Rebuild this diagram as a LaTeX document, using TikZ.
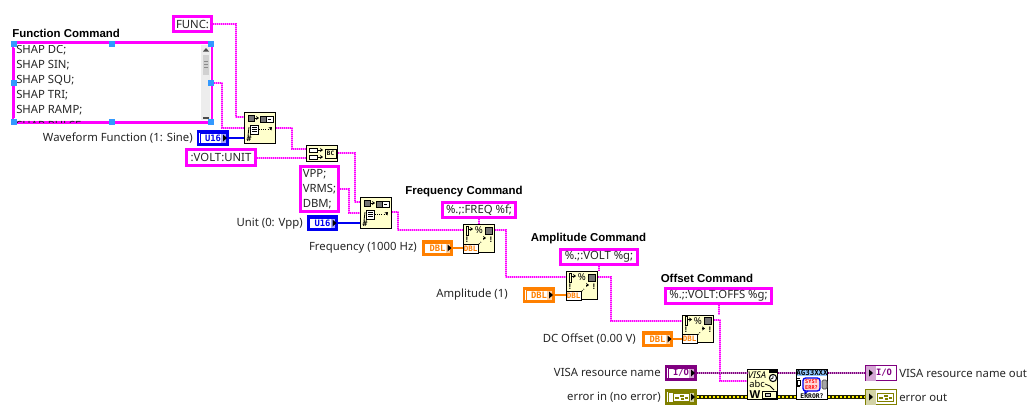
\documentclass[tikz,border=0pt]{standalone}
\usepackage{fontspec}
\setmainfont{Noto Sans}
\newfontfamily\monoicon{DejaVu Sans Mono}
\newfontfamily\capfont{Liberation Sans}
\usetikzlibrary{calc,arrows.meta}
\definecolor{strpink}{HTML}{FF00FF}
\definecolor{ubl}{HTML}{0000F0}
\definecolor{dblo}{HTML}{FF8000}
\definecolor{iop}{HTML}{800080}
\definecolor{errg}{HTML}{808000}
\definecolor{viy}{HTML}{FFFFCC}
\definecolor{hand}{HTML}{3399FF}
\tikzset{
  lbl/.style={font=\fontsize{8.5pt}{11pt}\selectfont,inner sep=0pt,text=black!85},
  capt/.style={font=\capfont\bfseries\fontsize{8.6pt}{11pt}\selectfont,inner sep=0pt},
  strbox/.style={draw=strpink,line width=2.25pt,fill=white,inner sep=0pt,align=left,font=\fontsize{8.5pt}{11.3pt}\selectfont,text=black!85},
  vi/.style={draw=black,line width=.75pt,fill=viy,inner sep=0pt},
  strw/.style={draw=strpink!45,line width=1.5pt,postaction={draw=strpink,line width=1.5pt,dash pattern=on .75pt off .75pt}},
  intw/.style={draw=ubl,line width=.9pt},
  dblw/.style={draw=dblo,line width=.9pt},
  iow/.style={draw=iop!45,line width=1.4pt,postaction={draw=iop,line width=1.4pt,dash pattern=on .75pt off .75pt}},
  errb/.style={draw=black!75!errg,line width=2.4pt},
  erry/.style={draw=yellow,line width=.9pt,dash pattern=on 1.5pt off 1.5pt},
  ico/.style={draw=black,line width=.6pt},
  tinyarr/.style={-{Stealth[length=2.2pt,width=3pt]}},
  chk/.style={draw=black,line width=.6pt,fill=black!55},
  hnd/.style={fill=hand,draw=none},
}
% rectangle node by outer edges
\newcommand\strc[6]{\node[strbox,minimum width={(#4-#2-3)*.75pt},minimum height={(#5-#3-3)*.75pt}] (#1) at ({(#2+#4)/2},{(#3+#5)/2}) {#6};}
\newcommand\vibox[5]{\node[vi,minimum width={(#4-#2-1)*.75pt},minimum height={(#5-#3-1)*.75pt}] (#1) at ({(#2+#4)/2},{(#3+#5)/2}) {};}
% control terminal: name, cx, cy, colour, text
\newcommand\ctlterm[5]{%
  \node[draw=#4,line width=1.8pt,fill=white,minimum width={29.5*.75pt},minimum height={13*.75pt},inner sep=0pt] (#1) at (#2,#3) {};
  \fill[#4!35] ({#2+8},{#3-5}) rectangle ({#2+13.5},{#3+5});
  \draw[#4,line width=.5pt] ({#2-13},{#3-5}) rectangle ({#2+13},{#3+5});
  \node[inner sep=0pt,text=#4,font=\monoicon\bfseries\fontsize{6.6pt}{8pt}\selectfont] at ({#2},#3) {#5};
  \fill[black] ({#2+10},{#3-3.5}) -- ({#2+14},#3) -- ({#2+10},{#3+3.5}) -- cycle;
}
% indicator terminal
\newcommand\indterm[5]{%
  \node[draw=#4,line width=.9pt,fill=white,minimum width={31*.75pt},minimum height={15*.75pt},inner sep=0pt] (#1) at (#2,#3) {};
  \fill[#4!35] ({#2-15.5},{#3-7.5}) rectangle ({#2-5},{#3+7.5});
  \node[inner sep=0pt,text=#4,font=\monoicon\bfseries\fontsize{6.6pt}{8pt}\selectfont] at ({#2+3},#3) {#5};
  \fill[black] ({#2-12},{#3-3.5}) -- ({#2-8},#3) -- ({#2-12},{#3+3.5}) -- cycle;
}
% little cluster glyph
\newcommand\clus[2]{%
  \draw[errg,line width=.6pt] ({#1-3},{#2-4}) rectangle ({#1+13},{#2+4});
  \fill[errg] ({#1-1},{#2}) rectangle ({#1+3},{#2+2});
  \fill[errg] ({#1+4},{#2-2}) rectangle ({#1+8},{#2});
  \fill[errg] ({#1+5},{#2+1}) rectangle ({#1+8},{#2+3});
  \fill[errg] ({#1+9},{#2}) rectangle ({#1+12},{#2+2});
}
% concatenate / build-string icon at top-left x,y
\newcommand\buildicon[2]{%
  \filldraw[chk] ({#1+4},{#2+3}) rectangle ({#1+10},{#2+9});
  \draw[ico,tinyarr] ({#1+11},{#2+6}) -- ({#1+15},{#2+6});
  \filldraw[chk] ({#1+16},{#2+4}) rectangle ({#1+22},{#2+10});
  \draw[ico,fill=white] ({#1+22},{#2+4}) rectangle ({#1+29},{#2+10});
  \draw[ico] ({#1+24},{#2+7}) -- ({#1+27},{#2+7});
  \draw[ico,fill=white] ({#1+6},{#2+13}) rectangle ({#1+14},{#2+22});
  \draw[ico] ({#1+8},{#2+15.5}) -- ({#1+13},{#2+15.5}) ({#1+8},{#2+17.5}) -- ({#1+13},{#2+17.5}) ({#1+8},{#2+19.5}) -- ({#1+13},{#2+19.5});
  \draw[ico] ({#1+5},{#2+15}) -- ({#1+4},{#2+24});
  \draw[ico,densely dotted] ({#1+15},{#2+17}) -- ({#1+26},{#2+17});
  \draw[ico,tinyarr] ({#1+26},{#2+17}) -- ({#1+28},{#2+15});
  \node[inner sep=0pt,font=\monoicon\bfseries\fontsize{6pt}{6pt}\selectfont] at ({#1+5},{#2+27}) {\#};
}
% format-into-string icon at top-left x,y
\newcommand\fmticon[2]{%
  \draw[ico] ({#1+3},{#2+2}) rectangle ({#1+5.5},{#2+11});
  \draw[ico,tinyarr] ({#1+5.5},{#2+5}) -- ({#1+10},{#2+5});
  \node[inner sep=0pt,font=\fontsize{7.2pt}{8pt}\selectfont] at ({#1+15.8},{#2+6.5}) {\%};
  \filldraw[chk] ({#1+22},{#2+3}) rectangle ({#1+29},{#2+10});
  \node[inner sep=0pt,font=\capfont\bfseries\fontsize{6pt}{6pt}\selectfont] at ({#1+4},{#2+15.5}) {!};
  \node[inner sep=0pt,font=\capfont\bfseries\fontsize{6pt}{6pt}\selectfont] at ({#1+28},{#2+15.5}) {!};
  \draw[ico,densely dotted] ({#1+16},{#2+20}) -- ({#1+19},{#2+17});
  \draw[ico,tinyarr] ({#1+20},{#2+14}) -- ({#1+23},{#2+14});
  \draw[black,line width=.7pt,fill=white] ({#1},{#2+20}) rectangle ({#1+15},{#2+29});
  \node[inner sep=0pt,text=dblo,font=\monoicon\bfseries\fontsize{5.6pt}{6pt}\selectfont] at ({#1+7.5},{#2+24.5}) {DBL};
}
\begin{document}
\begin{tikzpicture}[x=.75pt,y=-.75pt]
\useasboundingbox (0,0) rectangle (1033,418);
\fill[white] (0,0) rectangle (1033,418);

% list box
\node[draw=strpink,line width=1.7pt,fill=white,inner sep=0pt,minimum width={199*.75pt},minimum height={80*.75pt}] (list) at (112.5,82.5) {};
\draw[strpink,line width=2.25pt] (13,48) -- (13,118);
\fill[black!7] (201,45) rectangle (210,120);
\fill[black!18] (203,55) rectangle (209,75);
\draw[black!45,line width=.5pt] (204,61) -- (208,61) (204,64) -- (208,64) (204,67) -- (208,67);
\fill[black!70] (206,48) -- (209,51.5) -- (203,51.5) -- cycle;
\draw[black!70,line width=.8pt] (203,118) -- (209,118);
\begin{scope}
\clip (15,45) rectangle (200,122);
\foreach \t/\yy in {SHAP DC;/50,SHAP SIN;/65,SHAP SQU;/80,SHAP TRI;/95,SHAP RAMP;/110,SHAP PULSE/125}
  \node[lbl,anchor=west] at (16,\yy) {\t};
\end{scope}
\foreach \hx/\hy in {14/44,112/44,211/44,14/83,211/83,14/121.5,112/121.5,211/121.5}
  \fill[hnd] ({\hx-3},{\hy-3}) rectangle ({\hx+3},{\hy+3});
\coordinate (listout) at (214,83);
\node[capt,anchor=west] (capfn) at (12,33) {Function Command};

% string constants
\strc{func}{172}{15}{213}{33}{FUNC:}
\strc{volt}{185}{148}{257}{167}{:VOLT:UNIT}
\strc{vpp}{299}{165}{340}{213}{VPP;\\VRMS;\\DBM;}
\strc{freq}{441}{201}{517}{219}{\%.;:FREQ \%f;}
\strc{amp}{559}{248}{639}{266}{\%.;:VOLT \%g;}
\strc{off}{664}{287}{773}{305}{\%.;:VOLT:OFFS \%g;}

% captions
\node[capt] (capf) at (464,192) {Frequency Command};
\node[capt] (capa) at (588.5,239) {Amplitude Command};
\node[capt] (capo) at (707,278) {Offset Command};

% function nodes
\vibox{na}{244}{112}{276}{144}
\buildicon{244}{112}
\vibox{nb}{306}{145}{338}{162}
\draw[ico,fill=white] (309,148) rectangle (317,152);
\draw[ico,tinyarr] (318,150) -- (323,150);
\draw[ico,fill=white] (309,155) rectangle (317,159);
\draw[ico,tinyarr] (318,157) -- (323,157);
\draw[ico] (325,149) rectangle (336,158);
\node[inner sep=0pt,font=\monoicon\bfseries\fontsize{4.5pt}{5pt}\selectfont] at (330.5,153.5) {BC};
\vibox{nc}{360}{197}{392}{229}
\buildicon{360}{197}
\vibox{nd}{463}{224}{495}{253}
\fmticon{463}{224}
\vibox{ne}{566}{271}{598}{300}
\fmticon{566}{271}
\vibox{nf}{682}{315}{714}{343}
\fmticon{682}{314.5}

% VISA write
\vibox{ng}{747}{369}{778}{400}
\node[inner sep=0pt,font=\itshape\fontsize{7pt}{8pt}\selectfont] at (757,375) {VISA};
\draw[black,line width=.8pt,fill=white] (773,378) circle (3.6);
\draw[black,line width=.6pt] (773,375.5) -- (773,378) -- (771,379);
\fill[black] (769,370) rectangle (777,373);
\node[inner sep=0pt,font=\fontsize{7pt}{8pt}\selectfont] at (757,384) {abc};
\draw[ico] (765,384) -- (770,386) -- (774,390);
\node[inner sep=0pt,font=\capfont\bfseries\fontsize{8.5pt}{9pt}\selectfont] at (755,395) {W};
\draw[ico] (762,391.5) rectangle (776,398);
\draw[ico,fill=black!20] (765,393) rectangle (770,396.5);
% error query
\node[draw=black,line width=.75pt,fill=white,inner sep=0pt,minimum width={31*.75pt},minimum height={30*.75pt}] (nh) at (812,384.5) {};
\fill[hand!55] (797,370) rectangle (827,376);
\node[inner sep=0pt,font=\monoicon\bfseries\fontsize{5.6pt}{6pt}\selectfont] at (812,373) {AG33XXX};
\draw[black,line width=.6pt] (797,378) -- (800,378) (797,386) -- (800,386);
\draw[black,line width=.6pt,fill=white] (797,380) rectangle (800,385);
\filldraw[draw=ubl,fill=red!15,line width=1pt,rounded corners=2pt] (803,378) rectangle (820,391);
\draw[ubl,line width=.8pt] (805,391) -- (805,393.5) -- (808,391);
\node[inner sep=0pt,align=center,text=red,font=\monoicon\bfseries\fontsize{3.9pt}{4.6pt}\selectfont] at (811.5,384.5) {SYST\\ERR?};
\filldraw[draw=black!70,fill=black!35,line width=.5pt,rounded corners=1pt] (822,380) rectangle (827,389);
\node[inner sep=0pt,font=\monoicon\bfseries\fontsize{4.8pt}{5pt}\selectfont] at (812,396) {ERROR?};

% terminals
\ctlterm{twave}{213}{138}{ubl}{U16}
\ctlterm{tunit}{322.5}{223}{ubl}{U16}
\ctlterm{tfreq}{437.5}{248}{dblo}{DBL}
\ctlterm{tamp}{539}{295}{dblo}{DBL}
\ctlterm{tdc}{657.5}{339}{dblo}{DBL}
\ctlterm{tio}{681}{373}{iop}{I/O}
\ctlterm{terr}{681}{397}{errg}{}
\clus{676}{397}
\indterm{oio}{881}{373}{iop}{I/O}
\indterm{oerr}{881}{397}{errg}{}
\clus{880}{397}

% labels
\node[lbl,anchor=east] (lwave) at (193,138) {Waveform Function (1: Sine)};
\node[lbl,anchor=east] (lunit) at (303,224) {Unit (0: Vpp)};
\node[lbl,anchor=east] (lfreq) at (417,248) {Frequency (1000 Hz)};
\node[lbl,anchor=east] (lamp) at (508,295) {Amplitude (1)};
\node[lbl,anchor=east] (ldc) at (636,339) {DC Offset (0.00 V)};
\node[lbl,anchor=east] (lio) at (661,372) {VISA resource name};
\node[lbl,anchor=east] (lerr) at (661,397) {error in (no error)};
\node[lbl,anchor=west] (lioo) at (899,373) {VISA resource name out};
\node[lbl,anchor=west] (lerro) at (899,398) {error out};

% ports
\coordinate (a1) at (na.west |- 0,117);
\coordinate (a2) at (na.west |- 0,128);
\coordinate (a3) at (na.west |- twave.east);
\coordinate (ao) at (na.east |- 0,128);
\coordinate (b1) at (nb.west |- 0,149);
\coordinate (b2) at (nb.west |- volt.east);
\coordinate (bo) at (nb.east |- 0,153);
\coordinate (c1) at (nc.west |- 0,202);
\coordinate (c2) at (nc.west |- 0,213);
\coordinate (c3) at (nc.west |- tunit.east);
\coordinate (co) at (nc.east |- 0,212);
\coordinate (d1) at (nd.west |- 0,230);
\coordinate (d3) at (nd.west |- tfreq.east);
\coordinate (dt) at (nd.north -| freq.south);
\coordinate (do) at (nd.east |- 0,230);
\coordinate (e1) at (ne.west |- 0,277);
\coordinate (e3) at (ne.west |- tamp.east);
\coordinate (et) at (ne.north -| amp.south);
\coordinate (eo) at (ne.east |- 0,277);
\coordinate (f1) at (nf.west |- 0,321);
\coordinate (f3) at (nf.west |- tdc.east);
\coordinate (fo) at (nf.east |- 0,320);
\coordinate (g1) at (ng.west |- tio.east);
\coordinate (g2) at (ng.west |- 0,381);
\coordinate (g3) at (ng.west |- terr.east);
\coordinate (gio) at (ng.east |- tio.east);
\coordinate (ge) at (ng.east |- terr.east);
\coordinate (h1) at (nh.west |- tio.east);
\coordinate (h3) at (nh.west |- terr.east);
\coordinate (hio) at (nh.east |- tio.east);
\coordinate (he) at (nh.east |- terr.east);

% wires
\draw[strw] (func.east) -- ++(23,0) |- (a1);
\draw[strw] (listout) -- ++(8,0) |- (a2);
\draw[intw] (twave.east) -- (a3);
\draw[strw] (ao) -- ++(16,0) |- (b1);
\draw[strw] (volt.east) -- (b2);
\draw[strw] (bo) -- ++(17,0) |- (c1);
\draw[strw] (vpp.east) -- ++(9,0) |- (c2);
\draw[intw] (tunit.east) -- (c3);
\draw[strw] (co) -- ++(6,0) |- (d1);
\draw[strw] (freq.south) -- (dt);
\draw[dblw] (tfreq.east) -- (d3);
\draw[strw] (do) -- ++(11,0) |- (e1);
\draw[strw] (amp.south) -- (et);
\draw[dblw] (tamp.east) -- (e3);
\draw[strw] (eo) -- ++(13,0) |- (f1);
\draw[strw] (off.south) -- (off.south |- nf.north);
\draw[dblw] (tdc.east) -- (f3);
\draw[strw] (fo) -- ++(6,0) |- (g2);
\draw[iow] (tio.east) -- (g1);
\draw[iow] (gio) -- (h1);
\draw[iow] (hio) -- (oio.west);
\foreach \p/\q in {terr.east/g3,ge/h3,he/oerr.west}{
  \draw[errb] (\p) -- (\q);
  \draw[erry] (\p) -- (\q);
}
\end{tikzpicture}
\end{document}
